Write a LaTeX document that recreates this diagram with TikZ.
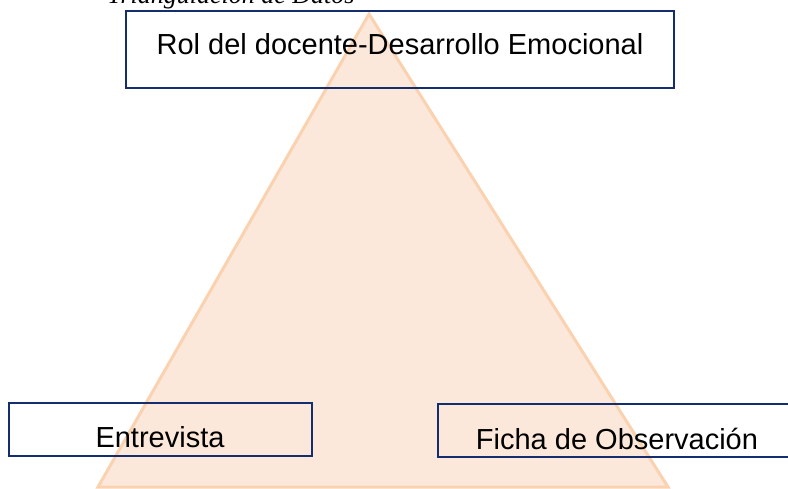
\documentclass[tikz,border=0pt]{standalone}
\usepackage{fontspec}
\setmainfont{Liberation Serif}
\setsansfont{Liberation Sans}
\definecolor{navy}{RGB}{20,45,110}
\definecolor{peach}{RGB}{252,232,218}
\definecolor{peachline}{RGB}{251,210,176}

\begin{document}
\begin{tikzpicture}[x=1pt, y=-1pt,
	box/.style={draw=navy, line width=2.3pt, inner sep=0pt},
	lbl/.style={font=\sffamily\fontsize{29}{34}\selectfont, inner sep=0pt, anchor=base},
	tri/.style={fill=peach, draw=peachline, line width=3pt, line join=miter}]
	\clip (0, 0) rectangle (788, 489);

	% caption, cut by the top edge
	\node[font=\itshape\fontsize{26}{30}\selectfont, inner sep=0pt, anchor=base] (titulo) at (231, 4) {Triangulación de Datos};

	\draw[tri] (369, 14) -- (98, 487) -- (668, 487) -- cycle;

	\node[box, minimum width=548, minimum height=77] (rol) at (400, 49.5) {};
	\node[lbl] (rolt) at (400, 55) {Rol del docente-Desarrollo Emocional};

	\node[box, minimum width=303, minimum height=53] (entrevista) at (160.5, 429.5) {};
	\node[lbl] (entrevistat) at (160, 447) {Entrevista};

	\node[box, minimum width=400, minimum height=53] (ficha) at (638, 430.5) {};
	\node[lbl] (fichat) at (617, 449) {Ficha de Observación};
\end{tikzpicture}
\end{document}
